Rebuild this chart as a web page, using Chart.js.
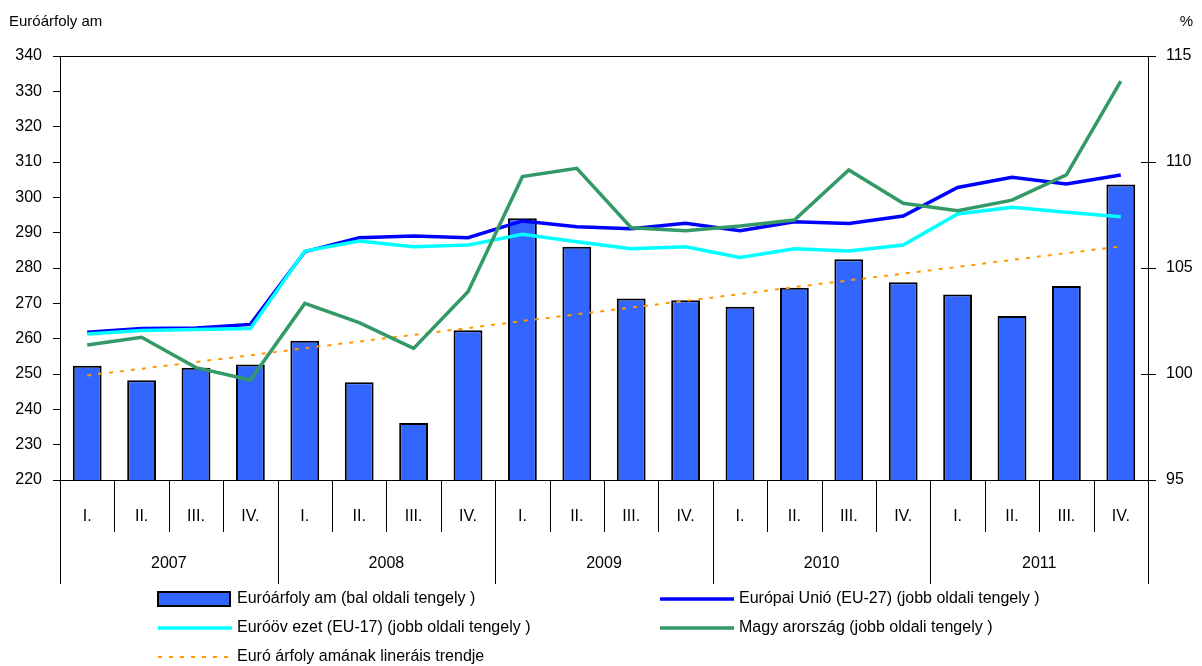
<!DOCTYPE html>
<html lang="hu">
<head>
<meta charset="utf-8">
<title>Euróárfolyam</title>
<script src="https://cdn.jsdelivr.net/npm/chart.js@4.4.1/dist/chart.umd.min.js"></script>
<style>
  html, body { margin: 0; padding: 0; background: #fff; }
  #doboz { position: relative; width: 1202px; height: 666px; }
</style>
</head>
<body>
<div id="doboz">
  <canvas id="grafikon" width="1202" height="666"></canvas>
</div>
<script>
// negyedévek és évek
const negyedevek = ['I.', 'II.', 'III.', 'IV.', 'I.', 'II.', 'III.', 'IV.', 'I.', 'II.', 'III.', 'IV.',
  'I.', 'II.', 'III.', 'IV.', 'I.', 'II.', 'III.', 'IV.'];
const evek = ['2007', '2008', '2009', '2010', '2011'];

// euróárfolyam (bal oldali tengely)
const euroArfolyam = [252.3, 248.2, 251.8, 252.7, 259.4, 247.7, 236.1, 262.4, 294.1, 286.0,
  271.4, 270.9, 269.0, 274.4, 282.5, 276.0, 272.5, 266.4, 274.9, 303.6];
// lineáris trend (bal oldali tengely)
const euroTrend = [249.6, 251.5, 253.4, 255.3, 257.3, 259.2, 261.1, 263.0, 265.0, 266.9,
  268.8, 270.7, 272.6, 274.6, 276.5, 278.4, 280.3, 282.3, 284.2, 286.1];
// jobb oldali tengely, %
const eu27 = [101.97, 102.15, 102.17, 102.34, 105.77, 106.43, 106.51, 106.43, 107.22, 106.95,
  106.85, 107.11, 106.76, 107.18, 107.1, 107.45, 108.8, 109.28, 108.96, 109.39];
const eu17 = [101.89, 102.05, 102.1, 102.15, 105.8, 106.27, 106.0, 106.08, 106.59, 106.24,
  105.91, 106.0, 105.5, 105.91, 105.8, 106.08, 107.55, 107.86, 107.63, 107.42];
const magyarorszag = [101.37, 101.73, 100.3, 99.72, 103.33, 102.42, 101.21, 103.88, 109.31, 109.7,
  106.9, 106.76, 106.98, 107.26, 109.62, 108.05, 107.7, 108.2, 109.39, 113.82];

const betu = '"Liberation Sans", Arial, sans-serif';

// tengelyek feletti feliratok, évek, elválasztó vonalak
const keretPlugin = {
  id: 'keret',
  afterDraw(chart) {
    const ctx = chart.ctx;
    const a = chart.chartArea;
    const w = (a.right - a.left) / negyedevek.length;
    ctx.save();
    ctx.strokeStyle = '#000';
    ctx.lineWidth = 1;
    ctx.beginPath();
    ctx.moveTo(a.left, a.top + 0.5);
    ctx.lineTo(a.right, a.top + 0.5);
    for (let i = 0; i <= negyedevek.length; i++) {
      const x = Math.round(a.left + i * w) + 0.5;
      ctx.moveTo(x, a.bottom);
      ctx.lineTo(x, i % 4 === 0 ? 584 : 532);
    }
    // jobb tengely belső tickjei
    const y1 = chart.scales.y1;
    y1.ticks.forEach(t => {
      const y = Math.round(y1.getPixelForValue(t.value)) + 0.5;
      ctx.moveTo(a.right - 7, y);
      ctx.lineTo(a.right, y);
    });
    ctx.stroke();

    ctx.fillStyle = '#000';
    ctx.font = '16px ' + betu;
    ctx.textAlign = 'center';
    ctx.textBaseline = 'middle';
    evek.forEach((ev, i) => {
      ctx.fillText(ev, a.left + (i * 4 + 2) * w, 564);
    });

    ctx.font = '15px ' + betu;
    ctx.textAlign = 'left';
    ctx.fillText('Euróárfoly am', 9, 22);
    ctx.textAlign = 'right';
    ctx.fillText('%', 1193, 22);
    ctx.restore();
  }
};

// jelmagyarázat két oszlopban
const jelmagyarazatPlugin = {
  id: 'jelmagyarazat',
  afterDraw(chart) {
    const ctx = chart.ctx;
    const oszlopX = [158, 660];
    const sorY = [599, 628, 657];
    ctx.save();
    ctx.font = '16px ' + betu;
    ctx.textBaseline = 'middle';
    ctx.textAlign = 'left';
    chart.data.datasets.forEach((ds, i) => {
      const x = oszlopX[i % 2];
      const y = sorY[Math.floor(i / 2)];
      if (ds.type === 'bar') {
        ctx.fillStyle = ds.backgroundColor;
        ctx.fillRect(x, y - 7, 72, 14);
        ctx.strokeStyle = '#000';
        ctx.lineWidth = 2;
        ctx.strokeRect(x, y - 7, 72, 14);
      } else {
        ctx.strokeStyle = ds.borderColor;
        ctx.lineWidth = ds.borderWidth;
        ctx.setLineDash(ds.borderDash || []);
        ctx.beginPath();
        ctx.moveTo(x, y);
        ctx.lineTo(x + 74, y);
        ctx.stroke();
        ctx.setLineDash([]);
      }
      ctx.fillStyle = '#000';
      ctx.fillText(ds.label, x + 79, y);
    });
    ctx.restore();
  }
};

new Chart(document.getElementById('grafikon'), {
  data: {
    labels: negyedevek,
    datasets: [
      {
        type: 'bar',
        label: 'Euróárfoly am (bal oldali tengely )',
        data: euroArfolyam,
        yAxisID: 'y',
        backgroundColor: '#3366FF',
        borderColor: '#000',
        borderWidth: 2,
        borderSkipped: false,
        barPercentage: 0.53,
        categoryPercentage: 1,
        order: 5
      },
      {
        type: 'line',
        label: 'Európai Unió (EU-27) (jobb oldali tengely )',
        data: eu27,
        yAxisID: 'y1',
        borderColor: '#0000FF',
        borderWidth: 3.5,
        pointRadius: 0,
        tension: 0,
        order: 3
      },
      {
        type: 'line',
        label: 'Euróöv ezet (EU-17) (jobb oldali tengely )',
        data: eu17,
        yAxisID: 'y1',
        borderColor: '#00FFFF',
        borderWidth: 3.5,
        pointRadius: 0,
        tension: 0,
        order: 2
      },
      {
        type: 'line',
        label: 'Magy arország (jobb oldali tengely )',
        data: magyarorszag,
        yAxisID: 'y1',
        borderColor: '#339966',
        borderWidth: 3.5,
        pointRadius: 0,
        tension: 0,
        order: 1
      },
      {
        type: 'line',
        label: 'Euró árfoly amának lineráis trendje',
        data: euroTrend,
        yAxisID: 'y',
        borderColor: '#FF9900',
        borderWidth: 2,
        borderDash: [4, 7],
        pointRadius: 0,
        tension: 0,
        order: 4
      }
    ]
  },
  options: {
    responsive: false,
    animation: false,
    layout: { padding: { top: 56, left: 0, right: 0, bottom: 0 } },
    plugins: {
      legend: { display: false },
      tooltip: { enabled: false }
    },
    scales: {
      x: {
        offset: true,
        grid: { display: false },
        border: { display: true, color: '#000', width: 1 },
        ticks: {
          color: '#000',
          font: { family: betu, size: 16 },
          padding: 19,
          maxRotation: 0,
          autoSkip: false
        },
        afterFit(scale) { scale.height = 186; }
      },
      y: {
        position: 'left',
        min: 220,
        max: 340,
        grid: { drawOnChartArea: false, drawTicks: true, tickLength: 7, color: '#000' },
        border: { color: '#000', width: 1 },
        ticks: {
          stepSize: 10,
          color: '#000',
          font: { family: betu, size: 16 },
          padding: 11
        },
        afterFit(scale) { scale.width = 60; }
      },
      y1: {
        position: 'right',
        min: 95,
        max: 115,
        grid: { drawOnChartArea: false, drawTicks: true, tickLength: 8, color: '#000' },
        border: { color: '#000', width: 1 },
        ticks: {
          stepSize: 5,
          color: '#000',
          font: { family: betu, size: 16 },
          padding: 10
        },
        afterFit(scale) { scale.width = 54; }
      }
    }
  },
  plugins: [keretPlugin, jelmagyarazatPlugin]
});
</script>
</body>
</html>
